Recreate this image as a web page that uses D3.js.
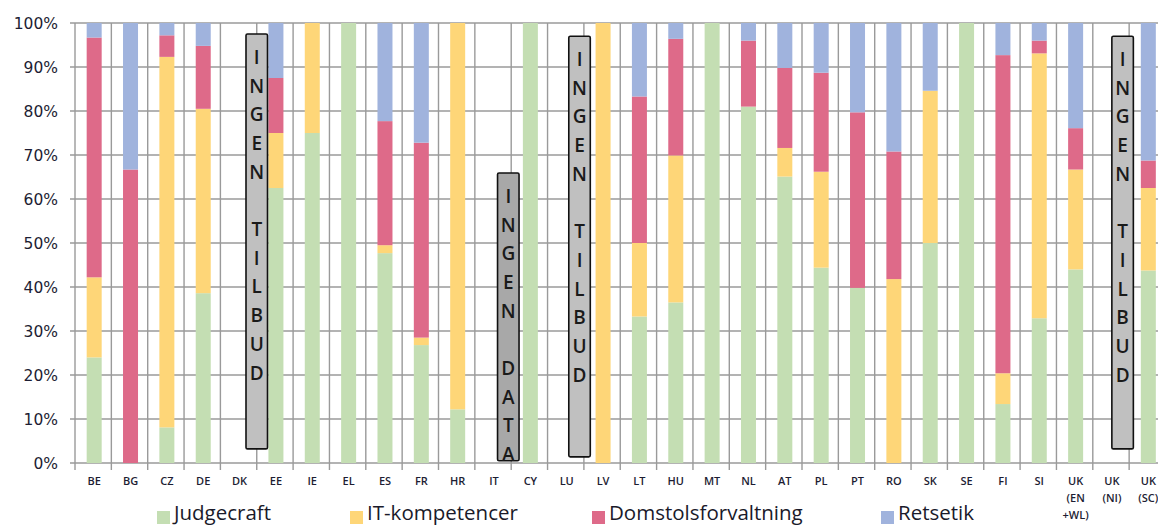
<!DOCTYPE html>
<html>
<head>
<meta charset="utf-8">
<script src="https://cdn.jsdelivr.net/npm/d3@7"></script>
<style>
  html, body { margin: 0; padding: 0; background: #fff; }
  svg { display: block; }
  text { font-family: "Open Sans", "Noto Sans", sans-serif; }
</style>
</head>
<body>
<svg id="chart" width="1158" height="525"></svg>
<script>
// Categories (member states); multi-line labels split on "\n"
const categories = ["BE","BG","CZ","DE","DK","EE","IE","EL","ES","FR","HR","IT","CY","LU","LV",
  "LT","HU","MT","NL","AT","PL","PT","RO","SK","SE","FI","SI","UK\n(EN\n+WL)","UK\n(NI)","UK\n(SC)"];

// Share of training per subject, in percent
const judgecraft   = [24.0, 0, 8.1, 38.6, 0, 62.5, 75, 100, 47.7, 26.8, 12.2, 0, 100, 0, 0,
  33.3, 36.5, 100, 81.0, 65.1, 44.4, 39.8, 0, 50.0, 100, 13.4, 32.9, 44.0, 0, 43.75];
const itKompetence = [18.2, 0, 84.2, 41.9, 0, 12.5, 25, 0, 1.8, 1.7, 87.8, 0, 0, 0, 100,
  16.7, 33.4, 0, 0, 6.5, 21.8, 0, 41.8, 34.6, 0, 7.0, 60.2, 22.7, 0, 18.75];
const domstols     = [54.5, 66.7, 4.9, 14.3, 0, 12.5, 0, 0, 28.2, 44.3, 0, 0, 0, 0, 0,
  33.3, 26.5, 0, 15.0, 18.2, 22.5, 39.9, 29.0, 0, 0, 72.3, 2.9, 9.4, 0, 6.25];
const retsetik     = [3.3, 33.3, 2.8, 5.2, 0, 12.5, 0, 0, 22.3, 27.2, 0, 0, 0, 0, 0,
  16.7, 3.6, 0, 4.0, 10.2, 11.3, 20.3, 29.2, 15.4, 0, 7.3, 4.0, 23.9, 0, 31.25];

const seriesNames = ["Judgecraft", "IT-kompetencer", "Domstolsforvaltning", "Retsetik"];
const seriesColors = ["#c4deb3", "#fed678", "#de6a89", "#a0b3dd"];

const yTicks = [0, 10, 20, 30, 40, 50, 60, 70, 80, 90, 100];

// Notes placed over categories without data
const notes = [
  { cat: "DK", text: "INGEN TILBUD", top: 97.5, bottom: 3.2, at: 1.0, fill: "#c0c0c0" },
  { cat: "IT", text: "INGEN DATA", top: 65.9, bottom: 0.5, at: 0.92, fill: "#a8a8a8" },
  { cat: "LU", text: "INGEN TILBUD", top: 97.0, bottom: 1.4, at: 0.88, fill: "#c0c0c0" },
  { cat: "UK\n(NI)", text: "INGEN TILBUD", top: 97.0, bottom: 3.2, at: 0.82, fill: "#c0c0c0" }
];

const svg = d3.select("#chart");
const plotLeft = 75, step = 36.35, plotTop = 23, plotBottom = 463;
const x = d3.scaleBand().domain(categories).range([plotLeft, plotLeft + step * categories.length]);
const y = d3.scaleLinear().domain([0, 100]).range([plotBottom, plotTop]);
const barW = 15;
const gridColor = "#9a9a9a";

// Horizontal gridlines with ticks reaching out to the labels
svg.append("g").selectAll("line").data(yTicks).join("line")
  .attr("x1", plotLeft - 5).attr("x2", x.range()[1])
  .attr("y1", d => y(d)).attr("y2", d => y(d))
  .attr("stroke", gridColor).attr("stroke-width", 1.4);

// Vertical category separators (and tick marks below the baseline)
const bounds = categories.map(c => x(c)).concat([x.range()[1]]);
svg.append("g").selectAll("line").data(bounds).join("line")
  .attr("x1", d => d).attr("x2", d => d)
  .attr("y1", plotTop).attr("y2", plotBottom + 7)
  .attr("stroke", gridColor).attr("stroke-width", 1.4);

// Y labels
svg.append("g").selectAll("text").data(yTicks).join("text")
  .attr("x", 58).attr("y", d => y(d)).attr("dy", "0.36em")
  .attr("text-anchor", "end")
  .style("font-family", "'DejaVu Sans', sans-serif")
  .style("font-size", "15.5px").attr("fill", "#1d1d33")
  .text(d => d + "%");

// Stacked bars
const rows = categories.map((c, i) => ({
  cat: c, Judgecraft: judgecraft[i], "IT-kompetencer": itKompetence[i],
  Domstolsforvaltning: domstols[i], Retsetik: retsetik[i]
}));
const stack = d3.stack().keys(seriesNames)(rows);
svg.append("g").selectAll("g").data(stack).join("g")
  .attr("fill", (d, i) => seriesColors[i])
  .selectAll("rect").data(d => d.filter(p => p[1] - p[0] > 0)).join("rect")
  .attr("x", d => x(d.data.cat) + x.bandwidth() / 2 - barW / 2 + 1)
  .attr("width", barW)
  .attr("y", d => y(d[1]))
  .attr("height", d => y(d[0]) - y(d[1]));

// X labels
const xl = svg.append("g").selectAll("text").data(categories).join("text")
  .attr("x", d => x(d) + x.bandwidth() / 2 + 1)
  .attr("y", 485)
  .attr("text-anchor", "middle")
  .style("font-size", "11px").style("font-weight", 600).attr("fill", "#1d1d33");
xl.each(function(d) {
  const lines = d.split("\n");
  d3.select(this).selectAll("tspan").data(lines).join("tspan")
    .attr("x", x(d) + x.bandwidth() / 2 + 1)
    .attr("dy", (l, i) => i === 0 ? 0 : 17)
    .text(l => l);
});

// Note boxes with stacked letters
notes.forEach(n => {
  const cx = x(n.cat) + x.bandwidth() * n.at;
  const w = 21.5;
  const y0 = y(n.top), y1 = y(n.bottom);
  const g = svg.append("g");
  g.append("rect")
    .attr("x", cx - w / 2).attr("y", y0).attr("width", w).attr("height", y1 - y0)
    .attr("rx", 1.5).attr("fill", n.fill).attr("stroke", "#111").attr("stroke-width", 1.6);
  const letters = n.text.split("");
  g.selectAll("text").data(letters).join("text")
    .attr("x", cx).attr("y", (l, i) => y0 + 23 + i * 28.7)
    .attr("dy", "0.36em").attr("text-anchor", "middle")
    .style("font-size", "19px").style("font-weight", 600).attr("fill", "#1a1a1a")
    .text(l => l === " " ? "" : l);
});

// Legend
const legendPos = [157, 350, 592, 881];
const lg = svg.append("g").selectAll("g").data(seriesNames).join("g")
  .attr("transform", (d, i) => `translate(${legendPos[i]},0)`);
lg.append("rect").attr("x", 0).attr("y", 511).attr("width", 13).attr("height", 13)
  .attr("fill", (d, i) => seriesColors[i]);
lg.append("text").attr("x", 17).attr("y", 520)
  .style("font-size", "20.5px").attr("fill", "#1a1a2a")
  .text(d => d);
</script>
</body>
</html>
